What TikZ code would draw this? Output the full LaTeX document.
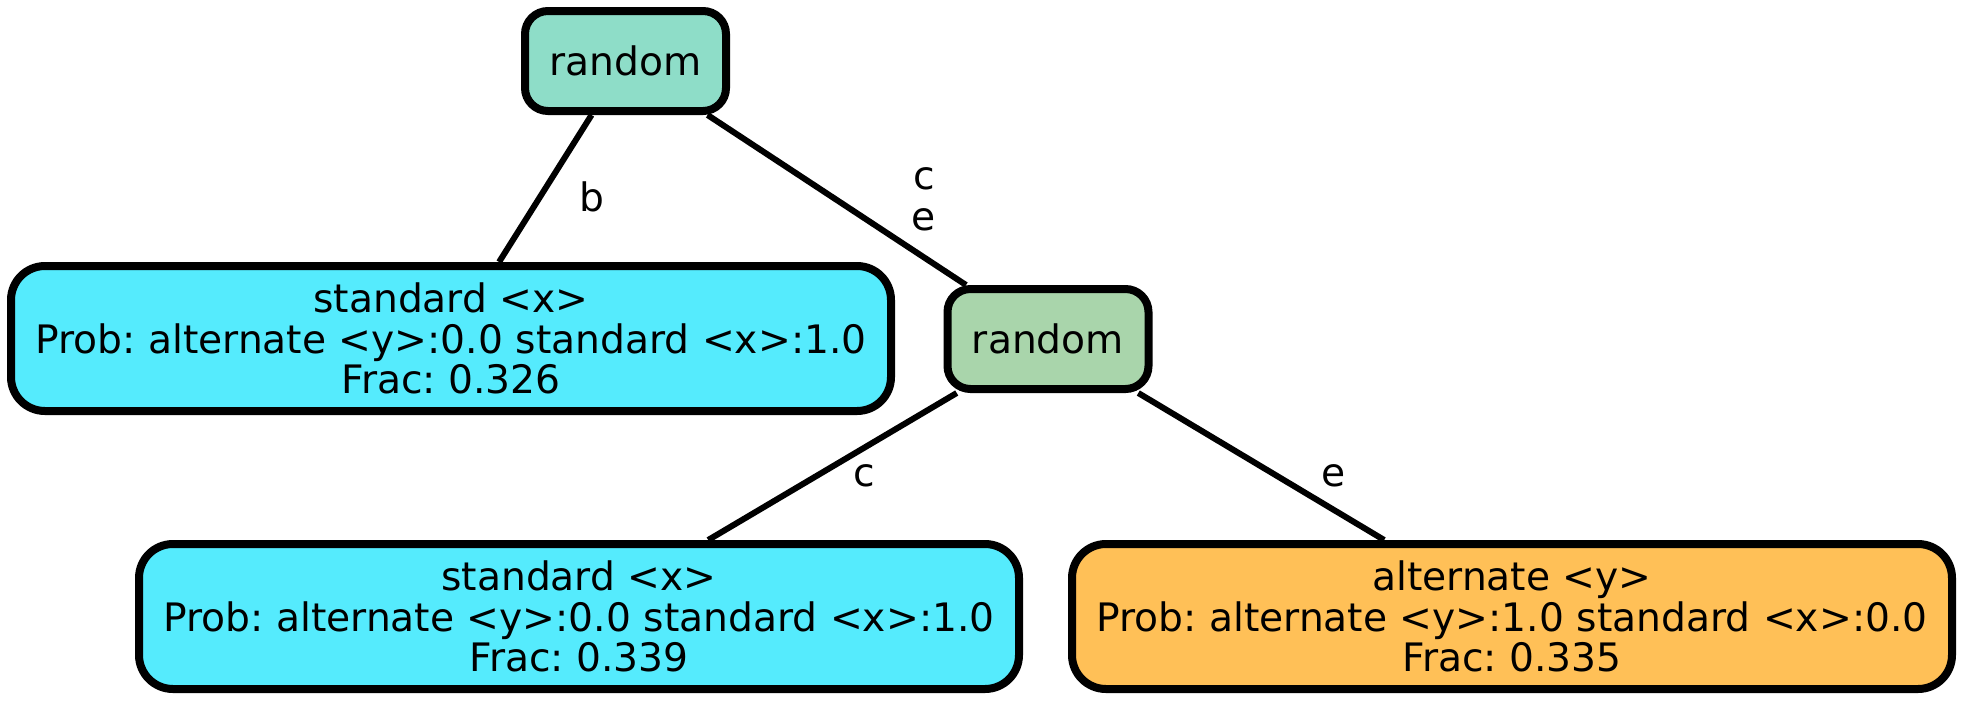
\documentclass[tikz,border=0pt]{standalone}
\usepackage{fontspec}
\setmainfont{DejaVu Sans}
\frenchspacing
\definecolor{rootfill}{RGB}{142,221,200}
\definecolor{midfill}{RGB}{169,213,171}
\definecolor{leaffillx}{RGB}{85,235,253}
\definecolor{leaffilly}{RGB}{255,192,87}
\begin{document}
\begin{tikzpicture}[x=0.5pt,y=-0.5pt,
  every node/.style={font=\fontsize{19.6pt}{20.3pt}\selectfont\frenchspacing, align=center, inner sep=0pt},
  treenode/.style={draw=black, line width=4pt},
  smallbox/.style={treenode, rounded corners=11.5pt, minimum width=100.5pt, minimum height=50pt},
  leafbox/.style={treenode, rounded corners=17pt, minimum width=440pt, minimum height=72.5pt},
  edge/.style={draw=black, line width=3pt},
  elabel/.style={fill=none}
]
\useasboundingbox (0,0) rectangle (1967,703);

% inner decision nodes
\node[smallbox, fill=rootfill] (root) at (625.5,61) {random};
\node[smallbox, fill=midfill] (mid) at (1048,339) {random};

% leaves
\node[leafbox, fill=leaffillx] (leafa) at (451,338.5)
  {standard <x>\\Prob: alternate <y>:0.0 standard <x>:1.0\\Frac: 0.326};
\node[leafbox, fill=leaffillx] (leafb) at (579,616.5)
  {standard <x>\\Prob: alternate <y>:0.0 standard <x>:1.0\\Frac: 0.339};
\node[leafbox, fill=leaffilly] (leafc) at (1512,616.5)
  {alternate <y>\\Prob: alternate <y>:1.0 standard <x>:0.0\\Frac: 0.335};

% connectors
\draw[edge] (root) -- (leafa);
\draw[edge] (root) -- (mid);
\draw[edge] (mid) -- (leafb);
\draw[edge] (mid) -- (leafc);

% edge labels
\node[elabel] (lb) at (592,197) {b};
\node[elabel] (lce) at (924,199) {c\\e};
\node[elabel] (lc) at (864,476) {c};
\node[elabel] (le) at (1334,476) {e};
\end{tikzpicture}
\end{document}
